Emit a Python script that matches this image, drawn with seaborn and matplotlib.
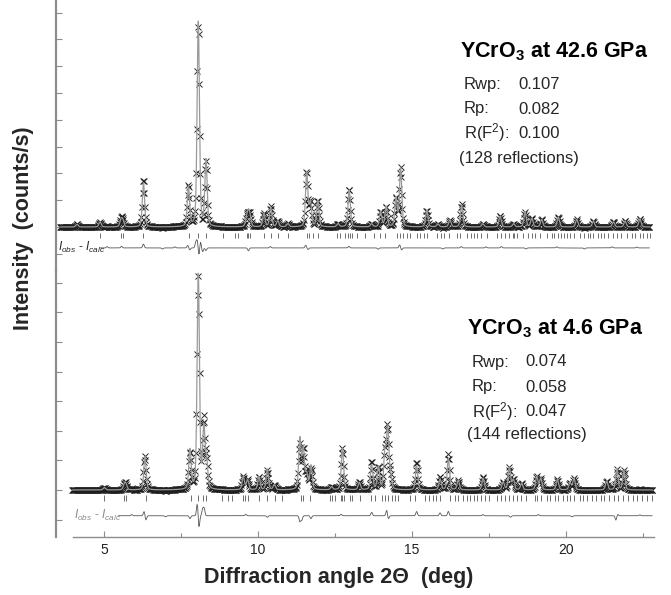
import numpy as np
import pandas as pd
import matplotlib
matplotlib.use("Agg")
import matplotlib.pyplot as plt
import seaborn as sns

# ---------------- YCrO3 at 42.6 GPa ----------------
hp_scan = (3.57, 22.73)                      # 2theta range of the scan (deg)
hp_peak_pos = [4.12, 4.87, 5.55, 5.61, 6.28, 7.74, 8.06, 8.31, 9.63, 9.69, 9.74,
               10.19, 10.41, 10.64, 10.97, 11.58, 11.70, 11.94, 12.60, 12.96,
               13.69, 13.98, 14.16, 14.48, 14.63, 15.48, 15.84, 16.23, 16.61,
               17.30, 17.86, 18.30, 18.67, 18.89, 19.21, 19.75, 20.35, 20.89,
               21.54, 21.92, 22.40]
hp_peak_height = [100, 190, 250, 230, 1650, 1480, 7650, 2470, 300, 450, 300,
                  500, 730, 220, 120, 2030, 900, 970, 120, 1380,
                  110, 570, 750, 1070, 2190, 630, 110, 260, 820,
                  120, 400, 120, 570, 320, 280, 370, 280, 220,
                  190, 220, 300]
hp_resid_pos = [5.10, 5.57, 6.28, 6.90, 7.30, 7.72, 7.78, 7.98, 8.03, 8.08,
                8.13, 8.20, 8.31, 9.69, 10.40, 11.55, 11.62, 12.95, 13.90,
                14.60, 14.66, 16.00, 16.60, 17.40, 17.90, 18.70, 19.70, 20.60,
                21.50, 22.30]
hp_resid_amp = [50, 60, 150, -40, 40, 100, -80, 200, 300, -330,
                250, -150, -100, -110, 50, 100, -60, 60, -50,
                120, -80, -40, 50, 40, 50, -40, 40, -40,
                40, 30]
hp_refl_pos = [4.87, 5.55, 5.61, 6.28, 7.76, 8.04, 8.31, 8.87, 9.25, 9.34, 9.63,
               9.69, 9.74, 10.19, 10.42, 10.64, 10.96, 11.58, 11.66, 11.80,
               11.96, 12.55, 12.66, 12.82, 12.93, 12.99, 13.04, 13.21, 13.48,
               13.77, 13.96, 14.13, 14.50, 14.61, 14.70, 14.83, 14.94, 15.15,
               15.26, 15.39, 15.50, 15.82, 15.93, 16.04, 16.21, 16.45, 16.56,
               16.80, 16.91, 17.02, 17.12, 17.23, 17.43, 17.75, 17.88, 18.03,
               18.16, 18.27, 18.30, 18.40, 18.62, 18.78, 18.89, 18.99, 19.16,
               19.38, 19.54, 19.61, 19.75, 19.83, 19.92, 20.02, 20.13, 20.26,
               20.46, 20.57, 20.70, 20.78, 20.89, 21.05, 21.13, 21.24, 21.38,
               21.54, 21.65, 21.78, 21.97, 22.14, 22.24, 22.41, 22.51, 22.62,
               22.73]

# ---------------- YCrO3 at 4.6 GPa ----------------
lp_scan = (3.96, 22.82)
lp_peak_pos = [5.01, 5.66, 5.71, 6.33, 7.79, 8.06, 8.24, 8.33, 9.52, 9.66,
               10.03, 10.30, 10.53, 11.36, 11.47, 11.58, 11.72, 12.39, 12.74,
               13.29, 13.69, 13.91, 14.12, 14.21, 14.30, 15.15, 15.91, 16.18,
               16.50, 17.31, 17.96, 18.16, 18.29, 18.56, 19.05, 19.18, 19.72,
               20.13, 20.26, 21.32, 21.65, 21.88]
lp_peak_height = [80, 180, 160, 1130, 1330, 7260, 2000, 900, 450, 340,
                  440, 700, 170, 1710, 1350, 500, 810, 100, 1410,
                  250, 840, 770, 1200, 2000, 450, 810, 360, 1070,
                  320, 400, 260, 770, 340, 220, 450, 390, 360,
                  240, 390, 300, 720, 650]
lp_resid_pos = [5.90, 6.30, 6.36, 7.00, 7.79, 8.03, 8.08, 8.20, 8.25, 9.60,
                10.30, 11.36, 11.42, 11.72, 12.70, 13.69, 14.18, 14.23, 15.15,
                15.91, 16.18, 17.30, 18.20, 19.10, 20.20, 21.62, 21.68, 22.40]
lp_resid_amp = [40, 150, -150, -40, -100, 450, -420, 220, 250, 50,
                -50, -200, -150, -100, 50, 120, 200, -120, 150,
                100, 150, 40, -50, 40, -40, -150, 50, 30]
lp_refl_pos = [5.01, 5.66, 5.71, 6.35, 7.82, 8.06, 8.22, 8.30, 8.84, 9.02, 9.15,
               9.52, 9.58, 9.66, 10.03, 10.30, 10.55, 10.79, 11.39, 11.47,
               11.69, 12.34, 12.41, 12.50, 12.69, 12.74, 12.78, 12.99, 13.04,
               13.31, 13.66, 13.80, 14.02, 14.12, 14.23, 14.34, 14.45, 14.56,
               14.94, 15.10, 15.42, 15.56, 15.67, 15.78, 15.91, 16.23, 16.40,
               16.50, 16.65, 16.78, 16.88, 17.01, 17.12, 17.23, 17.37, 17.51,
               17.75, 17.88, 18.02, 18.16, 18.27, 18.40, 18.53, 18.70, 18.99,
               19.07, 19.18, 19.37, 19.48, 19.64, 19.75, 19.89, 20.02, 20.13,
               20.26, 20.45, 20.56, 20.69, 20.83, 20.97, 21.13, 21.23, 21.41,
               21.56, 21.70, 21.86, 22.02, 22.16, 22.32, 22.46, 22.62, 22.78]

hp_stats = [("Rwp:", "0.107"), ("Rp:", "0.082"), ("R(F$^2$):", "0.100")]
lp_stats = [("Rwp:", "0.074"), ("Rp:", "0.058"), ("R(F$^2$):", "0.047")]
hp_title = r"YCrO$_\mathbf{3}$ at 42.6 GPa"
lp_title = r"YCrO$_\mathbf{3}$ at 4.6 GPa"
hp_nref = "(128 reflections)"
lp_nref = "(144 reflections)"

FWHM = 0.09      # instrumental peak width (deg)
ETA = 0.35       # Lorentzian fraction of the pseudo-Voigt
STEP = 0.02      # observed step size (deg)


def pseudo_voigt(x, pos, height):
    y = np.zeros_like(x)
    s = FWHM / 2.3548
    g = FWHM / 2
    for p, h in zip(pos, height):
        d = x - p
        y += h * ((1 - ETA) * np.exp(-0.5 * (d / s) ** 2) + ETA / (1 + (d / g) ** 2))
    return y


def residual(x, pos, amp):
    y = np.zeros_like(x)
    for p, a in zip(pos, amp):
        y += a * np.exp(-0.5 * ((x - p) / 0.025) ** 2)
    return y


def build(scan, pos, height, rpos, ramp):
    x_obs = np.arange(scan[0], scan[1], STEP)
    x_fine = np.arange(scan[0], scan[1], STEP / 5)
    calc_fine = pseudo_voigt(x_fine, pos, height)
    diff = residual(x_obs, rpos, ramp)
    obs = pseudo_voigt(x_obs, pos, height) + diff
    return (pd.DataFrame({"tth": x_fine, "calc": calc_fine}),
            pd.DataFrame({"tth": x_obs, "obs": obs, "diff": diff}))


sns.set_theme(style="white")
plt.rcParams["font.family"] = ["Liberation Sans", "DejaVu Sans"]
plt.rcParams["mathtext.fontset"] = "custom"
plt.rcParams["mathtext.rm"] = "Liberation Sans"
plt.rcParams["mathtext.it"] = "Liberation Sans:italic"
plt.rcParams["mathtext.bf"] = "Liberation Sans:bold"

W, H = 671, 595
fig = plt.figure(figsize=(W / 100, H / 100), dpi=100)
fig.patch.set_facecolor("white")

XMIN, XMAX = 3.44, 22.89
ax_top = fig.add_axes([56 / W, 1 - 270 / H, 599 / W, 270 / H])
ax_bot = fig.add_axes([56 / W, 1 - 537 / H, 599 / W, 267 / H], sharex=ax_top)

panels = [
    (ax_top, hp_scan, hp_peak_pos, hp_peak_height, hp_resid_pos, hp_resid_amp,
     hp_refl_pos, (-1604, 8470), -780, (-225, -400), 4.87, range(-1, 9)),
    (ax_bot, lp_scan, lp_peak_pos, lp_peak_height, lp_resid_pos, lp_resid_amp,
     lp_refl_pos, (-1588, 7432), -870, (-170, -360), 5.45, range(-1, 8)),
]

axis_grey = "#8c8c8c"
for ax, scan, pos, hgt, rpos, ramp, refl, ylim, doff, rrange, dstart, tks in panels:
    calc_df, obs_df = build(scan, pos, hgt, rpos, ramp)
    ax.plot(obs_df["tth"], obs_df["obs"], linestyle="none", marker="x",
            markersize=5.0, markeredgewidth=0.65, color="#1e1e1e", zorder=2)
    sns.lineplot(data=calc_df, x="tth", y="calc", ax=ax, color="#9a9a9a",
                 linewidth=0.9, estimator=None, sort=False, zorder=3)
    d = obs_df[obs_df["tth"] >= dstart]
    sns.lineplot(x=d["tth"].to_numpy(), y=(d["diff"] + doff).to_numpy(), ax=ax,
                 color="#555555", linewidth=0.6, estimator=None, sort=False)
    ax.vlines(refl, rrange[1], rrange[0], color="#555555", linewidth=0.6)
    ax.set_xlim(XMIN, XMAX)
    ax.set_ylim(*ylim)
    ax.set_xlabel("")
    ax.set_ylabel("")
    ax.set_yticks([k * 1000 for k in tks])
    ax.tick_params(axis="y", direction="in", length=4, width=0.8,
                   color=axis_grey, labelleft=False, left=True)
    for s in ("top", "right", "bottom"):
        ax.spines[s].set_visible(False)
    ax.spines["left"].set_color(axis_grey)
    ax.spines["left"].set_linewidth(1.6)
    ax.set_facecolor("none")

ax_top.tick_params(axis="x", bottom=False, labelbottom=False)
ax_bot.spines["bottom"].set_visible(True)
ax_bot.spines["bottom"].set_color(axis_grey)
ax_bot.spines["bottom"].set_linewidth(1.0)
ax_bot.spines["bottom"].set_bounds(4.0, 22.85)
ax_bot.set_xticks([5, 10, 15, 20])
ax_bot.set_xticks([7.5, 12.5, 17.5, 22.5], minor=True)
ax_bot.tick_params(axis="x", which="major", direction="in", length=4, width=0.8,
                   color=axis_grey, labelsize=10, pad=4, bottom=True,
                   labelcolor="#222222")
ax_bot.tick_params(axis="x", which="minor", direction="in", length=3, width=0.8,
                   color=axis_grey, bottom=True)

# difference-curve labels
diff_label = r"$I_{obs}$ - $I_{calc}$"
ax_top.text(4.27, -780, diff_label, ha="center", va="center", fontsize=8.5,
            color="#222222")
ax_bot.text(4.8, -870, diff_label, ha="center", va="center", fontsize=8.5,
            color="#8a8a8a")


def px(x, y):
    return x / W, 1 - y / H


def stats_block(title, tx, ty, stats, lx, vx, ys, nref, nx, ny):
    fig.text(*px(tx, ty), title, fontsize=15.5, fontweight="bold",
             ha="left", va="center", color="black")
    for (name, val), y in zip(stats, ys):
        fig.text(*px(lx, y), name, fontsize=12, ha="left", va="center")
        fig.text(*px(vx, y), val, fontsize=12, ha="left", va="center")
    fig.text(*px(nx, ny), nref, fontsize=12, ha="left", va="center")


stats_block(hp_title, 460, 52, hp_stats, 464, 518, [85, 109, 133],
            hp_nref, 459, 159)
stats_block(lp_title, 467, 329, lp_stats, 472, 525, [362, 387, 412],
            lp_nref, 467, 435)

fig.text(*px(24, 228), "Intensity  (counts/s)", rotation=90, fontsize=15.5,
         fontweight="bold", ha="center", va="center")
fig.text(*px(339, 577), "Diffraction angle 2Θ  (deg)", fontsize=15.5,
         fontweight="bold", ha="center", va="center")

fig.savefig("out.png", dpi=100, facecolor="white")
